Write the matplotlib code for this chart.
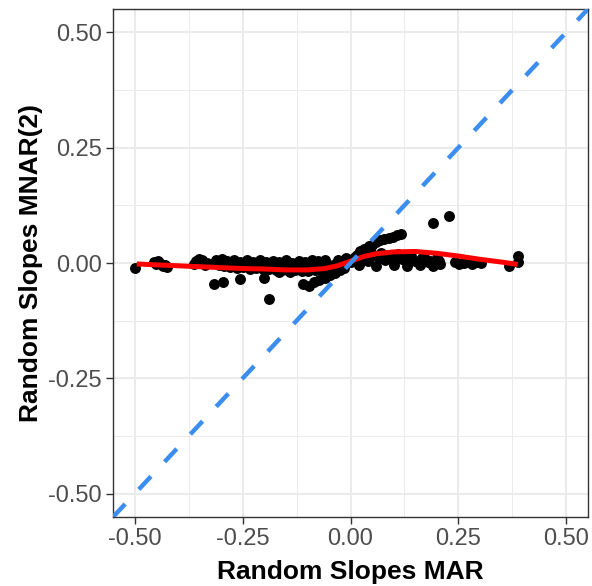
import numpy as np
import matplotlib.pyplot as plt

plt.rcParams['font.family'] = ['Liberation Sans', 'DejaVu Sans']

# random slopes: MAR (x) vs MNAR(2) (y)
mar = [
    -0.498, -0.455, -0.450, -0.445, -0.440, -0.435, -0.430, -0.425,
    -0.362, -0.358, -0.352, -0.348, -0.343, -0.338, -0.333,
    -0.312, -0.305, -0.298, -0.292, -0.285, -0.278, -0.270, -0.262, -0.255, -0.248,
    -0.240, -0.232, -0.225, -0.218, -0.210, -0.202, -0.195, -0.188, -0.180, -0.172,
    -0.165, -0.158, -0.150, -0.142, -0.135, -0.128, -0.120, -0.112, -0.105, -0.098,
    -0.090, -0.082, -0.075, -0.068, -0.060, -0.052,
    -0.308, -0.288, -0.268, -0.245, -0.222, -0.198, -0.176, -0.154, -0.131, -0.108,
    -0.086, -0.064, -0.044,
    -0.317, -0.296, -0.255, -0.200, -0.188, -0.166, -0.139, -0.109, -0.097, -0.085,
    -0.072, -0.060, -0.048, -0.036, -0.025, -0.015,
    -0.040, -0.030, -0.020, -0.010, 0.000, 0.010, 0.020, 0.030, 0.040, 0.050,
    0.060, 0.070, 0.080, 0.090, 0.100, 0.110, 0.120, 0.130, 0.140, 0.150,
    0.160, 0.170, 0.180, 0.190, 0.200, 0.208,
    -0.035, -0.015, 0.005, 0.025, 0.045, 0.065, 0.085, 0.105, 0.125, 0.145,
    0.165, 0.185, 0.205,
    0.005, 0.015, 0.023, 0.032, 0.042, 0.050, 0.060, 0.068, 0.078, 0.088,
    0.098, 0.108, 0.118,
    0.190, 0.227,
    0.243, 0.252, 0.262, 0.272, 0.282, 0.292, 0.302, 0.366, 0.387, 0.388,
]
mnar = [
    -0.010, 0.002, -0.003, 0.004, -0.002, -0.006, -0.004, -0.008,
    -0.002, 0.004, 0.008, 0.002, 0.007, -0.004, 0.001,
    0.006, -0.004, 0.008, -0.006, 0.004, -0.008, 0.007, -0.010, 0.003, -0.009,
    0.006, -0.012, 0.002, -0.011, 0.007, -0.013, 0.003, -0.014, 0.005, -0.015,
    0.002, -0.016, 0.006, -0.017, 0.001, -0.016, 0.005, -0.018, 0.003, -0.017,
    0.006, -0.016, 0.004, -0.015, 0.007, -0.012,
    -0.002, -0.004, -0.003, -0.006, -0.005, -0.007, -0.008, -0.009, -0.008, -0.010,
    -0.009, -0.008, -0.006,
    -0.045, -0.041, -0.034, -0.032, -0.079, -0.020, -0.020, -0.045, -0.050, -0.042,
    -0.036, -0.032, -0.026, -0.022, -0.015, -0.010,
    -0.004, 0.006, -0.008, 0.010, 0.002, 0.014, -0.004, 0.018, 0.004, 0.020,
    -0.006, 0.021, 0.006, 0.018, -0.005, 0.019, 0.008, -0.006, 0.016, 0.004,
    -0.004, 0.014, 0.002, -0.006, 0.010, -0.002,
    -0.014, 0.000, 0.008, 0.012, 0.014, 0.010, 0.012, 0.008, 0.012, 0.006,
    0.010, 0.004, 0.004,
    0.008, 0.018, 0.026, 0.030, 0.036, 0.040, 0.046, 0.050, 0.052, 0.055,
    0.057, 0.060, 0.062,
    0.086, 0.101,
    0.002, -0.003, 0.000, 0.004, -0.002, 0.002, -0.001, -0.006, 0.015, 0.003,
]

# loess smooth as seen in the reference
smooth_x = [-0.495, -0.45, -0.40, -0.35, -0.30, -0.25, -0.20, -0.15, -0.10, -0.06,
            -0.03, 0.00, 0.03, 0.06, 0.10, 0.15, 0.20, 0.25, 0.30, 0.35, 0.387]
smooth_y = [-0.002, -0.004, -0.006, -0.008, -0.010, -0.012, -0.013, -0.015, -0.015, -0.012,
            -0.006, 0.004, 0.014, 0.020, 0.024, 0.025, 0.021, 0.015, 0.008, 0.002, -0.003]

ticks = [-0.50, -0.25, 0.00, 0.25, 0.50]
tick_labels = ['-0.50', '-0.25', '0.00', '0.25', '0.50']
minor_ticks = [-0.375, -0.125, 0.125, 0.375]

fig = plt.figure(figsize=(5.92, 5.86), dpi=100)
ax = fig.add_axes([113 / 592, 69 / 586, 475 / 592, 508 / 586])

lim = (-0.55, 0.55)
ax.set_xlim(lim)
ax.set_ylim(lim)

ax.set_xticks(ticks)
ax.set_yticks(ticks)
ax.set_xticklabels(tick_labels)
ax.set_yticklabels(tick_labels)
ax.set_xticks(minor_ticks, minor=True)
ax.set_yticks(minor_ticks, minor=True)
ax.grid(which='major', color='#EBEBEB', lw=1.4, zorder=0)
ax.grid(which='minor', color='#EBEBEB', lw=0.7, zorder=0)
ax.set_axisbelow(True)
ax.tick_params(which='minor', length=0)
ax.tick_params(which='major', length=5, width=1, color='#333333',
               labelcolor='#4D4D4D', labelsize=17, pad=3)
for s in ax.spines.values():
    s.set_color('#333333')
    s.set_linewidth(1)

ax.scatter(mar, mnar, s=62, color='black', lw=0, zorder=3)
ax.plot(smooth_x, smooth_y, color='red', lw=3.6, solid_capstyle='butt', zorder=4)
ax.plot(lim, lim, color='#3B8EEF', lw=3.2, dashes=(4, 4.5), zorder=5)

ax.set_xlabel('Random Slopes MAR', fontsize=19, fontweight='bold', labelpad=7)
ax.set_ylabel('Random Slopes MNAR(2)', fontsize=19, fontweight='bold', labelpad=4)

fig.savefig('out.png', dpi=100)
